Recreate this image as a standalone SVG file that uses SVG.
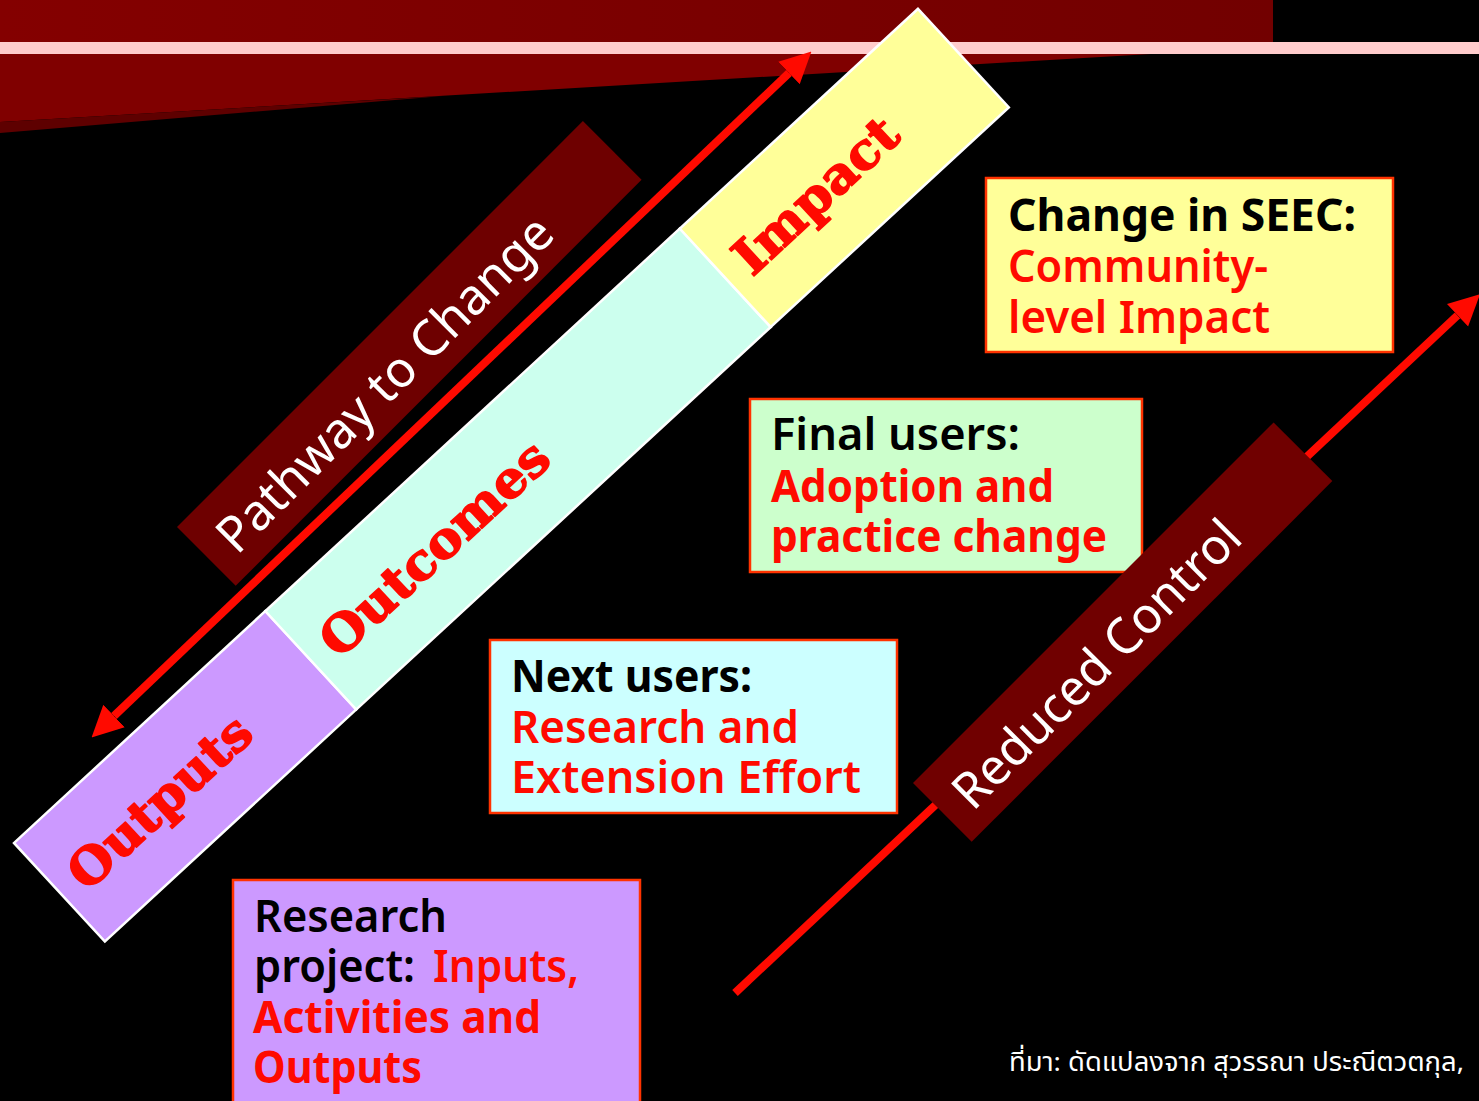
<svg xmlns="http://www.w3.org/2000/svg" width="1479" height="1101" viewBox="0 0 1479 1101">
<defs>
<linearGradient id="bannerGrad" x1="0" y1="0" x2="1" y2="0">
<stop offset="0" stop-color="#840000"/>
<stop offset="1" stop-color="#720000"/>
</linearGradient>
<marker id="head" markerUnits="userSpaceOnUse" viewBox="0 -16 31 32" refX="0" refY="0" markerWidth="31" markerHeight="32" orient="auto-start-reverse">
<path d="M0,-15.5 L31,0 L0,15.5 z" fill="#FF0A00"/>
</marker>
<style>
.seg{stroke:#FFFFFF;stroke-width:2.5}
.band{font-family:"DejaVu Serif","Liberation Serif",serif;font-weight:bold;font-size:50px;fill:#FF0A00;stroke:#FF0A00;stroke-width:1.6;stroke-linejoin:round}
.lbl{font-family:"Noto Sans","Open Sans","DejaVu Sans",sans-serif;font-size:50px;fill:#FFFFFF}
.box{stroke:#FF3300;stroke-width:2.5}
.t{font-family:"Noto Sans","Open Sans","DejaVu Sans",sans-serif;font-size:45px;font-weight:700}
.k{fill:#000000}
.r{fill:#FF0A00}
.m{font-weight:600}
.arrow{stroke:#FF0A00;stroke-width:8;fill:none;stroke-linecap:butt}
</style>
</defs>
<rect x="0" y="0" width="1479" height="1101" fill="#000000"/>
<g id="banner">
<rect x="0" y="0" width="1273" height="42" fill="url(#bannerGrad)"/>
<polygon points="0,54 1151,54 0,122" fill="#800000"/>
<polygon points="0,122 443,96 0,133" fill="#5E0000"/>
<rect x="0" y="42" width="1479" height="12" fill="#FFCCCC"/>
</g>
<g id="pathway-label">
<g transform="translate(177,527) rotate(-45)">
<rect x="0" y="0" width="574" height="83" fill="#6E0000"/>
<text class="lbl" x="22" y="63" textLength="452" lengthAdjust="spacingAndGlyphs">Pathway to Change</text>
</g>
</g>
<g id="outputs">
<g transform="translate(14,843) rotate(-42.7)">
<rect class="seg" x="0" y="0" width="342" height="134" fill="#CC99FF"/>
<text class="band" x="20" y="86" textLength="230" lengthAdjust="spacingAndGlyphs">Outputs</text>
</g>
</g>
<g id="outcomes">
<g transform="translate(14,843) rotate(-42.7)">
<rect class="seg" x="342" y="0" width="564" height="134" fill="#CCFFEE"/>
<text class="band" x="363" y="86" textLength="292" lengthAdjust="spacingAndGlyphs">Outcomes</text>
</g>
</g>
<g id="impact">
<g transform="translate(14,843) rotate(-42.7)">
<rect class="seg" x="906" y="0" width="324" height="134" fill="#FFFF99"/>
<text class="band" x="926" y="85" textLength="205" lengthAdjust="spacingAndGlyphs">Impact</text>
</g>
</g>
<g id="connectors">
<line class="arrow" x1="114" y1="716" x2="789" y2="73" marker-start="url(#head)" marker-end="url(#head)"/>
<line class="arrow" x1="735" y1="993" x2="1457.5" y2="315.3" marker-end="url(#head)"/>
</g>
<g id="box-impact">
<rect class="box" x="986" y="178" width="407" height="174" fill="#FFFF99"/>
<text class="t k" x="1008" y="231" textLength="348" lengthAdjust="spacingAndGlyphs">Change in SEEC:</text>
<text class="t r m" x="1008" y="282" textLength="260" lengthAdjust="spacingAndGlyphs">Community-</text>
<text class="t r m" x="1008" y="333" textLength="262" lengthAdjust="spacingAndGlyphs">level Impact</text>
</g>
<g id="box-final-users">
<rect class="box" x="750" y="399" width="392" height="173" fill="#CCFFCC"/>
<text class="t k m" x="771" y="450" textLength="249" lengthAdjust="spacingAndGlyphs">Final users:</text>
<text class="t r" x="771" y="502" textLength="283" lengthAdjust="spacingAndGlyphs">Adoption and</text>
<text class="t r" x="771" y="552" textLength="336" lengthAdjust="spacingAndGlyphs">practice change</text>
</g>
<g id="box-next-users">
<rect class="box" x="490" y="640" width="407" height="173" fill="#CCFFFF"/>
<text class="t k" x="511" y="692" textLength="241" lengthAdjust="spacingAndGlyphs">Next users:</text>
<text class="t r m" x="511" y="743" textLength="288" lengthAdjust="spacingAndGlyphs">Research and</text>
<text class="t r m" x="511" y="793" textLength="350" lengthAdjust="spacingAndGlyphs">Extension Effort</text>
</g>
<g id="box-research-project">
<rect class="box" x="233" y="880" width="407" height="230" fill="#CC99FF"/>
<text class="t k m" x="254" y="932" textLength="193" lengthAdjust="spacingAndGlyphs">Research</text>
<text class="t k m" x="254" y="982" textLength="161" lengthAdjust="spacingAndGlyphs">project:</text>
<text class="t r m" x="433" y="982" textLength="146" lengthAdjust="spacingAndGlyphs">Inputs,</text>
<text class="t r" x="253" y="1033" textLength="288" lengthAdjust="spacingAndGlyphs">Activities and</text>
<text class="t r" x="253" y="1083" textLength="169" lengthAdjust="spacingAndGlyphs">Outputs</text>
</g>
<g id="reduced-control-label">
<g transform="translate(913,783) rotate(-45)">
<rect x="0" y="0" width="510" height="83" fill="#700000"/>
<text class="lbl" x="22" y="63" textLength="384" lengthAdjust="spacingAndGlyphs">Reduced Control</text>
</g>
</g>
<g id="source-note">
<text x="1009" y="1071" font-family="'Noto Sans Thai','Noto Sans','DejaVu Sans',sans-serif" font-size="26" fill="#FFFFFF" textLength="455" lengthAdjust="spacingAndGlyphs">ที่มา: ดัดแปลงจาก สุวรรณา ประณีตวตกุล,</text>
</g>
</svg>
